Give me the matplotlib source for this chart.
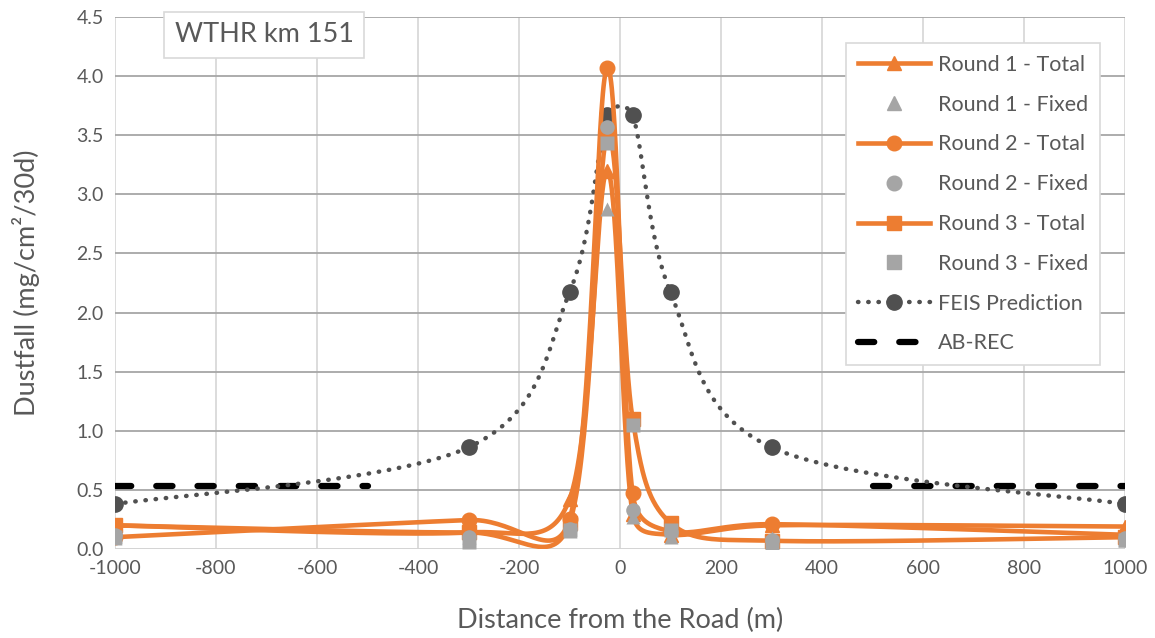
import numpy as np
import matplotlib
matplotlib.use('Agg')
import matplotlib.pyplot as plt
from matplotlib.lines import Line2D

plt.rcParams['font.family'] = ['Lato', 'DejaVu Sans']
plt.rcParams['axes.unicode_minus'] = False

# Distance from the road (m)
dist = [-1000, -300, -100, -25, 25, 100, 300, 1000]

r1_total = [0.20, 0.14, 0.42, 3.20, 0.30, 0.12, 0.20, 0.19]
r1_fixed = [0.09, 0.10, 0.15, 2.88, 0.27, 0.10, 0.09, 0.08]
r2_total = [0.10, 0.245, 0.25, 4.07, 0.47, 0.15, 0.21, 0.12]
r2_fixed = [0.12, 0.10, 0.17, 3.57, 0.33, 0.14, 0.08, 0.09]
r3_total = [0.20, 0.14, 0.22, 3.50, 1.10, 0.22, 0.07, 0.10]
r3_fixed = [0.10, 0.06, 0.16, 3.43, 1.05, 0.16, 0.05, 0.08]
feis = [0.38, 0.86, 2.17, 3.67, 3.67, 2.17, 0.86, 0.38]

ab_rec_x = [[-1000, -500], [500, 1000]]
ab_rec_y = 0.53

ORANGE = '#ED7D31'
GRAY = '#A5A5A5'
DARK = '#505050'
TXT = '#595959'

# screen scale (px per data unit) used by the smoothing
SX, SY = 1010 / 2000, 532 / 4.5


def smooth(xs, ys, n=40):
    # excel style smoothed line: bezier, control arms limited to half a segment
    pts = np.column_stack([np.array(xs, float) * SX, np.array(ys, float) * SY])
    P = np.vstack([pts[0], pts, pts[-1]])
    t = np.linspace(0, 1, n)[:, None]
    segs = []
    for i in range(1, len(P) - 2):
        p0, p1, p2, p3 = P[i - 1], P[i], P[i + 1], P[i + 2]
        d12 = np.hypot(*(p2 - p1))
        d02 = np.hypot(*(p2 - p0))
        d13 = np.hypot(*(p3 - p1))
        f0 = 1 / 6 if d02 / 6 < d12 / 2 else (d12 / 2) / max(d02, 1e-9)
        f1 = 1 / 6 if d13 / 6 < d12 / 2 else (d12 / 2) / max(d13, 1e-9)
        b1 = p1 + (p2 - p0) * f0
        b2 = p2 - (p3 - p1) * f1
        segs.append((1 - t) ** 3 * p1 + 3 * (1 - t) ** 2 * t * b1
                    + 3 * (1 - t) * t ** 2 * b2 + t ** 3 * p2)
    s = np.vstack(segs)
    return s[:, 0] / SX, s[:, 1] / SY


fig = plt.figure(figsize=(11.55, 6.38), dpi=100)
ax = fig.add_axes([115 / 1155, 1 - 549 / 638, 1010 / 1155, 532 / 638])

dots = (0, (0.1, 2.2))
dash = (2.6, 4.0)

# AB-REC
for seg in ab_rec_x:
    ax.plot(seg, [ab_rec_y, ab_rec_y], color='black', lw=4.5,
            dashes=dash, dash_capstyle='round', zorder=3)

# FEIS prediction
sx, sy = smooth(dist, feis)
ax.plot(sx, sy, color=DARK, lw=3.2, linestyle=dots,
        dash_capstyle='round', zorder=3)
ax.plot(dist, feis, 'o', color=DARK, ms=11, zorder=3)

totals = [(r1_total, '^'), (r2_total, 'o'), (r3_total, 's')]
fixed = [(r1_fixed, '^'), (r2_fixed, 'o'), (r3_fixed, 's')]
for vals, m in totals:
    sx, sy = smooth(dist, vals)
    ax.plot(sx, sy, color=ORANGE, lw=3.3, zorder=4, solid_capstyle='round')
    ax.plot(dist, vals, m, color=ORANGE, ms=10.5, zorder=4)
for vals, m in fixed:
    ax.plot(dist, vals, m, color=GRAY, ms=10.5, zorder=5, mec='none')

ax.set_xlim(-1000, 1000)
ax.set_ylim(0, 4.5)
ax.set_xticks(np.arange(-1000, 1001, 200))
ax.set_yticks(np.arange(0, 4.51, 0.5))
ax.set_yticklabels([f'{v:.1f}' for v in np.arange(0, 4.51, 0.5)])
ax.grid(axis='y', color='#A6A6A6', lw=1.3, zorder=0)
ax.grid(axis='x', color='#D9D9D9', lw=1.3, zorder=0)
ax.set_axisbelow(True)
for s in ax.spines.values():
    s.set_visible(False)
ax.axhline(0, color='#D9D9D9', lw=2, zorder=1)
ax.tick_params(length=0, labelsize=14, colors=TXT, pad=8)
ax.set_xlabel('Distance from the Road (m)', fontsize=19.5, color=TXT, labelpad=22)
ax.set_ylabel('Dustfall (mg/cm²/30d)', fontsize=19.5, color=TXT, labelpad=26)

ax.text(-882, 4.35, 'WTHR km 151', fontsize=19.5, color=TXT, ha='left', va='center',
        bbox=dict(boxstyle='square,pad=0.38', fc='white', ec='#D9D9D9', lw=1.2),
        zorder=6)

handles = [
    Line2D([], [], color=ORANGE, lw=3.3, marker='^', ms=10.5),
    Line2D([], [], color=GRAY, lw=0, marker='^', ms=10.5),
    Line2D([], [], color=ORANGE, lw=3.3, marker='o', ms=10.5),
    Line2D([], [], color=GRAY, lw=0, marker='o', ms=10.5),
    Line2D([], [], color=ORANGE, lw=3.3, marker='s', ms=10.5),
    Line2D([], [], color=GRAY, lw=0, marker='s', ms=10.5),
    Line2D([], [], color=DARK, lw=3.2, linestyle=dots,
           dash_capstyle='round', marker='o', ms=11),
    Line2D([], [], color='black', lw=4.5, dashes=dash, dash_capstyle='round'),
]
labels = ['Round 1 - Total', 'Round 1 - Fixed', 'Round 2 - Total', 'Round 2 - Fixed',
          'Round 3 - Total', 'Round 3 - Fixed', 'FEIS Prediction', 'AB-REC']
leg = ax.legend(handles, labels, loc='upper right',
                bbox_to_anchor=(1100 / 1155, 1 - 43 / 638),
                bbox_transform=fig.transFigure, borderaxespad=0,
                fontsize=15.5, frameon=True,
                fancybox=False, edgecolor='#D9D9D9', framealpha=1,
                handlelength=3.35, labelspacing=0.92, borderpad=0.55,
                handletextpad=0.37, labelcolor=TXT)
leg.get_frame().set_linewidth(1.2)
leg.set_zorder(7)

fig.savefig('out.png', dpi=100)
